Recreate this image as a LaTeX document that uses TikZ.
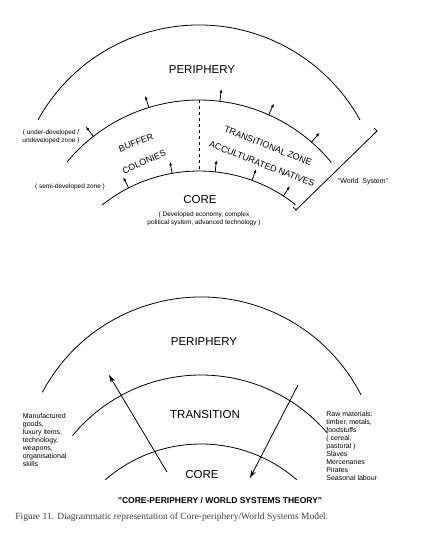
\documentclass[tikz,border=0pt]{standalone}
\usepackage{fontspec}
\setmainfont{Liberation Sans}
\newfontfamily\capfont{Liberation Serif}
\usepackage{tikz}
\usetikzlibrary{positioning,arrows.meta,calc}

\begin{document}
\begin{tikzpicture}[x=1pt,y=1pt,line width=0.8pt,
  big/.style={font=\fontsize{11.5}{13}\selectfont},
  zone/.style={font=\fontsize{9}{10}\selectfont,inner sep=0pt},
  note/.style={font=\fontsize{6.5}{7.5}\selectfont,align=center,inner sep=0pt},
  list/.style={font=\fontsize{7}{8}\selectfont,align=left,inner sep=0pt,anchor=north west},
  tip/.style={-{Latex[length=4pt,width=3pt]}},
  bigtip/.style={-{Stealth[length=8pt,width=5pt]}}]

  \useasboundingbox (0,0) rectangle (421,-542);

  % upper model
  \coordinate (c1) at (199,-209);
  \coordinate (c2) at (199,-271.5);
  \coordinate (c3) at (199,-326);
  \draw (c1) ++(151:184) arc[start angle=151,end angle=29,radius=184];
  \draw (c2) ++(140.3:171.5) arc[start angle=140.3,end angle=39.5,radius=171.5];
  \draw (c3) ++(128.7:155) arc[start angle=128.7,end angle=51.5,radius=155];

  \coordinate (t2) at ($(c2)+(90:171.5)$);
  \coordinate (t3) at ($(c3)+(90:155)$);
  \draw[dashed,line width=0.7pt] (t2) -- (t3);

  \foreach \a in {128,107,83,66,49}
    \draw[tip] ($(c2)+(\a:171.5)$) -- ($(c2)+(\a:184)$);
  \foreach \a in {117,100,84,70,57}
    \draw[tip] ($(c3)+(\a:155)$) -- ($(c3)+(\a:167)$);

  \node[big] (per1) [] at (202,-70) {PERIPHERY};
  \node[note] (under) [] at (51,-137) {( under-developed /\\undeveloped zone )};
  \node[note] (semi) [] at (70,-187) {( semi-developed zone )};
  \node[zone] (buffer) [rotate=20] at (136,-143) {BUFFER};
  \node[zone] (colonies) [rotate=24] at (144,-162) {COLONIES};
  \node[zone] (trans) [rotate=-21.5] at (268,-146) {TRANSITIONAL ZONE};
  \node[zone] (accult) [rotate=-21] at (262,-164) {ACCULTURATED NATIVES};
  \node[big] (core1) [] at (200,-200) {CORE};
  \node[note] (devel) [] at (204,-219) {( Developed economy, complex\\political system, advanced technology )};
  \node[note,font=\fontsize{7}{8}\selectfont] (world) [] at (363,-182) {"World\ \ System"};

  \coordinate (b1) at (374.3,-128.1);
  \coordinate (b2) at (377,-131);
  \coordinate (b3) at (296,-210);
  \coordinate (b4) at (293.3,-207.1);
  \draw (b1) -- (b2) -- (b3) -- (b4);

  % lower model
  \coordinate (c4) at (201,-476.7);
  \coordinate (c5) at (201,-541.5);
  \coordinate (c6) at (201,-590);
  \draw (c4) ++(152:179.7) arc[start angle=152,end angle=27,radius=179.7];
  \draw (c5) ++(140.5:166.5) arc[start angle=140.5,end angle=40.5,radius=166.5];
  \draw (c6) ++(131:146) arc[start angle=131,end angle=49,radius=146];

  \node[big] (per2) [] at (204,-342) {PERIPHERY};
  \node[big] (transition) [] at (205,-415) {TRANSITION};
  \node[big] (core2) [] at (202,-475) {CORE};

  \coordinate (out1) at (167,-472);
  \coordinate (out2) at (109,-375);
  \coordinate (in1) at (298,-385);
  \coordinate (in2) at (250,-478);
  \path[bigtip] (out1) edge (out2);
  \path[bigtip] (in1) edge (in2);

  \node[list] (goods) [] at (22.5,-413) {Manufactured\\goods,\\luxury items,\\technology,\\weapons,\\organisational\\skills};
  \node[list] (raw) [] at (326,-411) {Raw materials:\\timber, metals,\\foodstuffs\\( cereal,\\pastoral )\\Slaves\\Mercenaries\\Pirates\\Seasonal labour};

  \node[font=\bfseries\fontsize{8.5}{10}\selectfont] (title) [] at (220,-500) {"CORE-PERIPHERY / WORLD SYSTEMS THEORY"};
  \node[font=\capfont\fontsize{9.5}{11}\selectfont,text=black!75,anchor=west,inner sep=0pt] (caption) [] at (15,-517) {Figure 11. Diagrammatic representation of Core-periphery/World Systems Model.};

\end{tikzpicture}
\end{document}
